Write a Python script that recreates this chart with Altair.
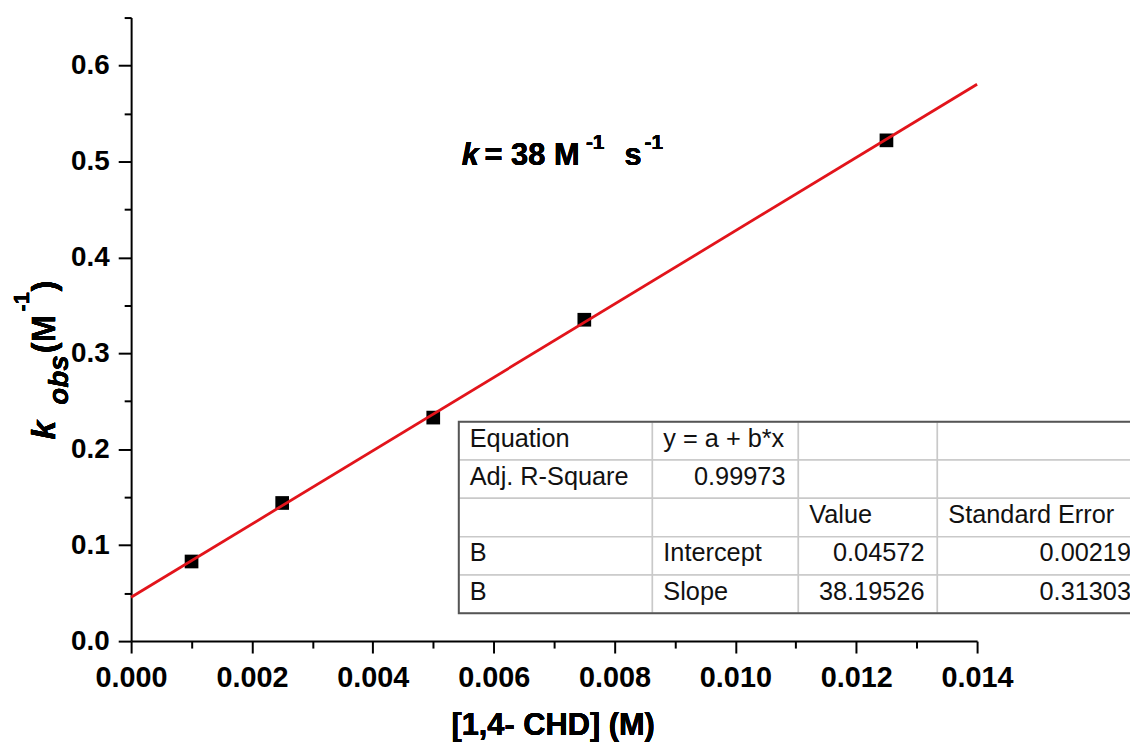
import altair as alt
import pandas as pd

# ---------------- data ----------------
conc = [0.001, 0.0025, 0.005, 0.0075, 0.0125]          # [1,4-CHD] (M)
kobs = [0.083, 0.144, 0.233, 0.335, 0.522]             # k_obs
fit_x = [0.0, 0.014]                                    # fitted line ends
fit_y = [0.0457, 0.5805]
x_ticks = [0.000, 0.001, 0.002, 0.003, 0.004, 0.005, 0.006, 0.007,
           0.008, 0.009, 0.010, 0.011, 0.012, 0.013, 0.014]
y_ticks = [0.00, 0.05, 0.10, 0.15, 0.20, 0.25, 0.30, 0.35,
           0.40, 0.45, 0.50, 0.55, 0.60, 0.65]
table_rows = [
    ["Equation", "y = a + b*x", "", ""],
    ["Adj. R-Square", "0.99973", "", ""],
    ["", "", "Value", "Standard Error"],
    ["B", "Intercept", "0.04572", "0.00219"],
    ["B", "Slope", "38.19526", "0.31303"],
]
x_title = "[1,4- CHD] (M)"

# ---------------- layout ----------------
W, H = 852, 628
FONT = "Liberation Sans"
col_edges = [330, 525, 672, 812, 1020]          # plot pixels
row_edges = [407, 445.6, 484.2, 522.8, 561.4, 600]
RED = "#e2141b"

pts = pd.DataFrame({"x": conc, "y": kobs})
fit = pd.DataFrame({"x": fit_x, "y": fit_y})

xs = alt.Scale(domain=[0, 0.014], nice=False, zero=False)
ys = alt.Scale(domain=[0, 0.65], nice=False, zero=False)

x_axis = alt.Axis(
    values=x_ticks, title=None, grid=False,
    labelExpr="round(datum.value*1000) % 2 == 0 ? format(datum.value, '.3f') : ''",
    tickSize={"condition": {"test": "round(datum.value*1000) % 2 == 0", "value": 12}, "value": 7},
    labelFont=FONT, labelFontSize=29, labelFontWeight="bold", labelColor="black",
    labelPadding=11, labelFlush=False, labelOverlap=False, labelBound=False,
    domainColor="black", domainWidth=2, tickColor="black", tickWidth=2,
)
y_axis = alt.Axis(
    values=y_ticks, title=None, grid=False,
    labelExpr="round(datum.value*100) % 10 == 0 ? format(datum.value, '.1f') : ''",
    tickSize={"condition": {"test": "round(datum.value*100) % 10 == 0", "value": 13}, "value": 7},
    labelFont=FONT, labelFontSize=28, labelFontWeight="bold", labelColor="black",
    labelPadding=9, labelFlush=False, labelOverlap=False, labelBound=False,
    domainColor="black", domainWidth=2, tickColor="black", tickWidth=2,
)

points = alt.Chart(pts).mark_square(size=190, color="black", opacity=1).encode(
    x=alt.X("x:Q", scale=xs, axis=x_axis),
    y=alt.Y("y:Q", scale=ys, axis=y_axis),
)
line = alt.Chart(fit).mark_line(color=RED, strokeWidth=2.8).encode(
    x=alt.X("x:Q", scale=xs), y=alt.Y("y:Q", scale=ys)
)

# ---------------- table inset ----------------
cells, txt_left, txt_right = [], [], []
for r, row in enumerate(table_rows):
    for c, t in enumerate(row):
        cells.append({"cx": col_edges[c], "cx2": col_edges[c + 1],
                      "cy": row_edges[r], "cy2": row_edges[r + 1]})
        if not t:
            continue
        numeric = t.replace(".", "").isdigit()
        if numeric:
            txt_right.append({"tx": col_edges[c + 1] - 13, "ty": row_edges[r] + 25, "t": t})
        else:
            txt_left.append({"tx": col_edges[c] + 11, "ty": row_edges[r] + 25, "t": t})

cell_df = pd.DataFrame(cells)
cell_layer = alt.Chart(cell_df).mark_rect(fill="white", stroke="#c9c9c9", strokeWidth=1.5).encode(
    x=alt.X("cx:Q", scale=None, axis=None), x2="cx2:Q",
    y=alt.Y("cy:Q", scale=None, axis=None), y2="cy2:Q",
)
outer = alt.Chart(pd.DataFrame([{"cx": col_edges[0], "cx2": col_edges[-1],
                                 "cy": row_edges[0], "cy2": row_edges[-1]}])).mark_rect(
    fill=None, fillOpacity=0, stroke="#555555", strokeWidth=2).encode(
    x=alt.X("cx:Q", scale=None, axis=None), x2="cx2:Q",
    y=alt.Y("cy:Q", scale=None, axis=None), y2="cy2:Q",
)
tl = alt.Chart(pd.DataFrame(txt_left)).mark_text(
    align="left", baseline="alphabetic", font=FONT, fontSize=25.5, color="#111").encode(
    x=alt.X("tx:Q", scale=None, axis=None), y=alt.Y("ty:Q", scale=None, axis=None), text="t:N")
tr = alt.Chart(pd.DataFrame(txt_right)).mark_text(
    align="right", baseline="alphabetic", font=FONT, fontSize=25.5, color="#111").encode(
    x=alt.X("tx:Q", scale=None, axis=None), y=alt.Y("ty:Q", scale=None, axis=None), text="t:N")


def txt(s, x, y, size, italic=False, angle=0, align="left"):
    kw = dict(align=align, baseline="alphabetic", font=FONT, fontSize=size,
              fontWeight="bold", color="black")
    if italic:
        kw["fontStyle"] = "italic"
    if angle:
        kw["angle"] = angle
    return alt.Chart(pts).mark_text(**kw).encode(
        x=alt.value(x), y=alt.value(y), text=alt.value(s))


# k = 38 M^-1 s^-1 annotation
ann = [
    txt("k", 333, 148, 31, italic=True),
    txt("= 38 M", 356, 148, 31),
    txt("-1", 458, 132, 21),
    txt("s", 497, 148, 31),
    txt("-1", 517, 132, 21),
]
# y title: k_obs (M^-1)
ytitle = [
    txt("k", -77, 425, 34, italic=True, angle=270),
    txt("obs", -64, 390, 28, italic=True, angle=270),
    txt("(M", -77, 338, 33, angle=270),
    txt("-1", -103, 296, 22, angle=270),
    txt(")", -77, 276, 33, angle=270),
]
xt = txt(x_title, 425, 723, 31, align="center")

chart = alt.layer(
    points, line, cell_layer, outer, tl, tr, *ann, *ytitle, xt
).properties(
    width=W, height=H,
    autosize=alt.AutoSizeParams(type="none"),
    padding={"left": 124, "top": 7, "right": 154, "bottom": 102},
    background="white",
).configure_view(stroke=None)

chart.save("out.html", embed_options={"renderer": "svg", "actions": False})
